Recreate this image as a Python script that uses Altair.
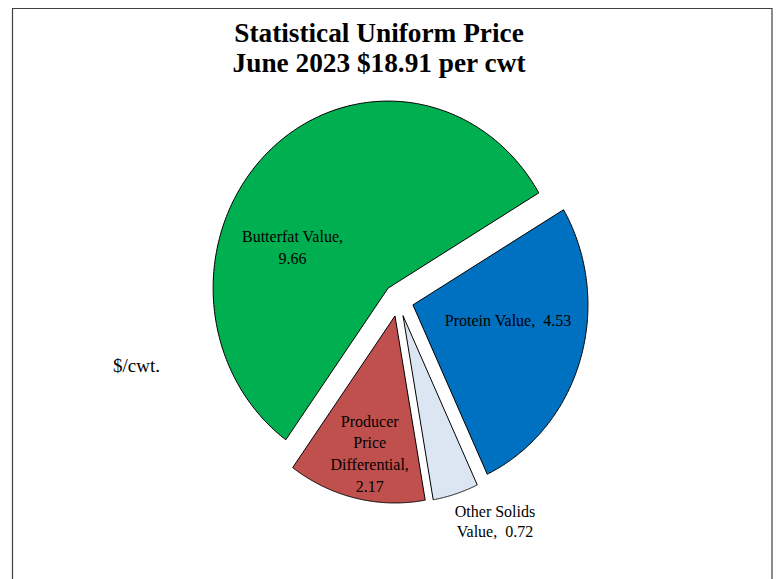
import math
import altair as alt
import pandas as pd

# ---- data ----
categories = ["Protein Value", "Other Solids Value", "Producer Price Differential", "Butterfat Value"]
values = [4.53, 0.72, 2.17, 9.66]
colors = ["#0070C0", "#DCE6F2", "#C0504D", "#00B050"]
label_texts = ["Protein Value,\u00a0 4.53", "Other Solids\nValue,\u00a0 0.72",
               "Producer\nPrice\nDifferential,\n2.17", "Butterfat Value,\n9.66"]
title_text = "Statistical Uniform Price\nJune 2023 $18.91 per cwt"
unit_text = "$/cwt."

# ---- layout (pixels, chart coordinates) ----
W, H = 765, 590
CX, CY = 390.4, 292.1      # pie centre
RX, RY = 175, 187          # horizontal / vertical pixel radius (pie is drawn stretched)
EXPLODE = 0.087            # explosion, as a fraction of the radius
START = math.radians(59.4) # angle of the first slice edge (clockwise from 12 o'clock)
NPTS = 200                 # outline resolution of each slice
label_x = [500, 487, 361.7, 284.5]
label_y = [318, 508.7, 418.7, 233.7]
label_lh = [22, 20.5, 21.7, 22.3]
FONT = "Liberation Serif"

df = pd.DataFrame({
    "category": categories,
    "value": values,
    "order": list(range(len(categories))),
})

slices = alt.Chart(df).transform_window(
    cum="sum(value)", sort=[alt.SortField("order")], frame=[None, 0]
).transform_joinaggregate(
    total="sum(value)"
).transform_calculate(
    t0=f"{START} + 2*PI*(datum.cum - datum.value)/datum.total",
    t1=f"{START} + 2*PI*datum.cum/datum.total",
    k=f"sequence(0, {NPTS + 2})",
).transform_flatten(
    ["k"]
).transform_calculate(
    mid="(datum.t0 + datum.t1)/2",
    ang=f"datum.t0 + (datum.t1 - datum.t0)*clamp(datum.k - 1, 0, {NPTS - 1})/{NPTS - 1}",
    rad=f"(datum.k == 0 || datum.k == {NPTS + 1}) ? 0 : 1",
).transform_calculate(
    px=f"{EXPLODE}*sin(datum.mid) + datum.rad*sin(datum.ang)",
    py=f"{EXPLODE}*cos(datum.mid) + datum.rad*cos(datum.ang)",
)

pie = slices.mark_line(
    filled=True, stroke="black", strokeWidth=1, strokeJoin="miter", interpolate="linear",
).encode(
    x=alt.X("px:Q", axis=None, scale=alt.Scale(domain=[-1, 1], range=[CX - RX, CX + RX], nice=False, zero=False)),
    y=alt.Y("py:Q", axis=None, scale=alt.Scale(domain=[-1, 1], range=[CY + RY, CY - RY], nice=False, zero=False)),
    fill=alt.Fill("category:N", scale=alt.Scale(domain=categories, range=colors), legend=None),
    detail="category:N",
    order=alt.Order("k:Q"),
)

layers = [pie]
for txt, lx, ly, lh in zip(label_texts, label_x, label_y, label_lh):
    layers.append(
        alt.Chart(pd.DataFrame({"t": [txt]})).mark_text(
            font=FONT, fontSize=16, color="black", align="center",
            baseline="alphabetic", lineBreak="\n", lineHeight=lh,
        ).encode(text="t:N", x=alt.value(lx), y=alt.value(ly))
    )

title = alt.Chart(pd.DataFrame({"t": [title_text]})).mark_text(
    font=FONT, fontSize=27.3, fontWeight="bold", color="black", align="center",
    baseline="alphabetic", lineBreak="\n", lineHeight=30,
).encode(text="t:N", x=alt.value(371), y=alt.value(33.7))

unit = alt.Chart(pd.DataFrame({"t": [unit_text]})).mark_text(
    font=FONT, fontSize=19, color="black", align="left", baseline="alphabetic",
).encode(text="t:N", x=alt.value(105), y=alt.value(364))

frame = alt.Chart(pd.DataFrame({"t": [0]})).mark_rect(
    fill="white", stroke="#404040", strokeWidth=1.2,
).encode(x=alt.value(4.5), x2=alt.value(764), y=alt.value(0.5), y2=alt.value(640))

chart = alt.layer(frame, *layers, title, unit).properties(
    width=W, height=H,
    autosize=alt.AutoSizeParams(type="none"),
    padding=0,
).configure_view(stroke=None)

chart.save("out.html", embed_options={"renderer": "svg", "actions": False})
